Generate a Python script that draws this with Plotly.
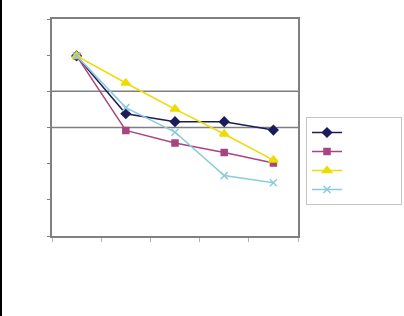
import plotly.graph_objects as go

categories = ["1", "2", "3", "4", "5"]
series_a = [4.98, 3.38, 3.16, 3.16, 2.93]
series_b = [4.98, 2.92, 2.57, 2.31, 2.02]
series_c = [4.98, 4.23, 3.51, 2.82, 2.10]
series_d = [4.98, 3.55, 2.87, 1.67, 1.47]
y_ticks = [0, 1, 2, 3, 4, 5, 6]
grid_vals = [3, 4]

W, H = 404, 316
L, R, T, B = 52, 106, 19, 80
NB = "\u00a0" * 25

styles = [
    (series_a, "#1c1c5c", "diamond", 7),
    (series_b, "#a8457f", "square", 6),
    (series_c, "#ecdc00", "triangle-up", 8),
    (series_d, "#8ccbdc", "x-thin", 7),
]

fig = go.Figure()
for vals, col, sym, sz in styles:
    fig.add_trace(go.Scatter(
        x=categories, y=vals, mode="lines+markers", name=NB,
        line=dict(color=col, width=1.5),
        marker=dict(symbol=sym, size=sz, color=col, line=dict(color=col, width=1.5)),
    ))

for g in grid_vals:
    fig.add_shape(type="line", xref="paper", yref="y", x0=0, x1=1, y0=g, y1=g,
                  line=dict(color="#7f7f7f", width=1.5), layer="below")

pw, ph = W - L - R, H - T - B
# left black edge
fig.add_shape(type="rect", xref="paper", yref="paper",
              x0=-L / pw, x1=-(L - 2) / pw,
              y0=-B / ph, y1=(H - T) / ph + 0.05,
              fillcolor="black", line=dict(width=0))

fig.update_layout(
    width=W, height=H,
    margin=dict(l=L, r=R, t=T, b=B, autoexpand=False),
    paper_bgcolor="white", plot_bgcolor="white",
    showlegend=True,
    legend=dict(x=(306 - L) / pw, y=(H - B - 117) / ph,
                xanchor="left", yanchor="top",
                bordercolor="#c4c4c4", borderwidth=1, bgcolor="white",
                font=dict(size=7, family="Arial"), tracegroupgap=0),
    xaxis=dict(type="category", range=[-0.5, 4.5], showgrid=False,
               showticklabels=False, ticks="outside", tickson="boundaries",
               ticklen=4, tickcolor="#b0b0b0", showline=True, linecolor="#808080",
               linewidth=2, mirror=True),
    yaxis=dict(range=[0, 6], tickvals=y_ticks, showgrid=False,
               showticklabels=False, ticks="outside", ticklen=3,
               tickcolor="#808080", showline=True, linecolor="#808080",
               linewidth=2, mirror=True, zeroline=False),
)

fig.write_html("out.html")
